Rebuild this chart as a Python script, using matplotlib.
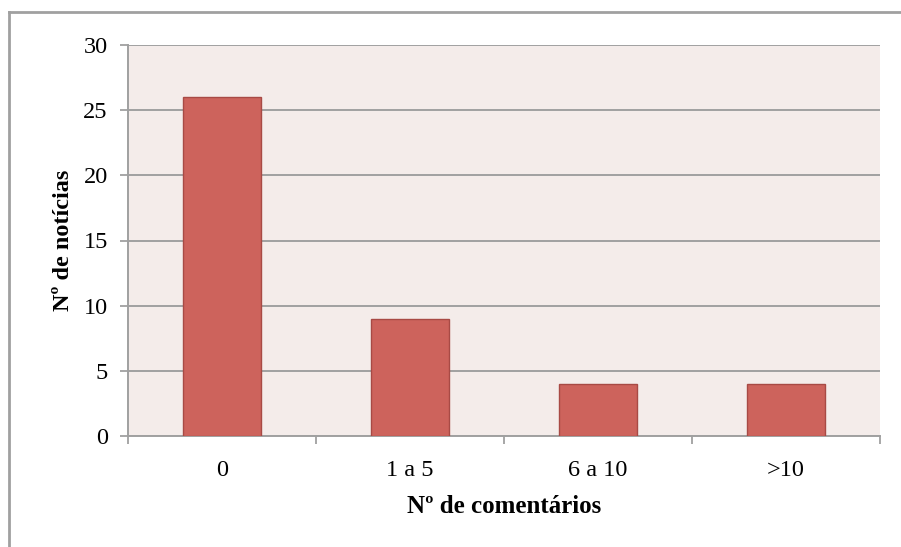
import matplotlib
matplotlib.use("Agg")
import matplotlib.pyplot as plt
from matplotlib.lines import Line2D

categories = ["0", "1 a 5", "6 a 10", ">10"]
values = [26, 9, 4, 4]
yticks = [0, 5, 10, 15, 20, 25, 30]

plt.rcParams['font.family'] = ['Liberation Serif', 'DejaVu Serif']

W, H = 901, 547
fig = plt.figure(figsize=(W / 100, H / 100), dpi=100)
fig.patch.set_facecolor("white")
ax = fig.add_axes([128 / W, 1 - 436 / H, (880 - 128) / W, (436 - 45) / H])
ax.set_facecolor("#F4ECEA")

x = list(range(len(categories)))
ax.bar(x, values, width=0.41, color="#CD635C", edgecolor="#A84A45", linewidth=1.0, zorder=3)

ax.set_xlim(-0.5, len(categories) - 0.5)
ax.set_ylim(0, 30)
ax.set_yticks(yticks)
ax.set_yticklabels([str(t) for t in yticks], fontsize=17.5)
ax.set_xticks(x)
ax.set_xticklabels(categories, fontsize=17.5)
ax.tick_params(axis="x", length=0, pad=17.5)
ax.tick_params(axis="y", length=6, width=1.3, color="#A0A0A0", pad=8.5)
# boundary ticks on x axis
ax.set_xticks([i - 0.5 for i in range(len(categories) + 1)], minor=True)
ax.tick_params(axis="x", which="minor", length=6, width=1.3, color="#A0A0A0")

ax.yaxis.grid(True, color="#A0A0A0", linewidth=1.4, zorder=1)
ax.set_axisbelow(True)
for s in ["top", "right"]:
    ax.spines[s].set_visible(False)
for s in ["left", "bottom"]:
    ax.spines[s].set_color("#A0A0A0")
    ax.spines[s].set_linewidth(1.4)

ax.set_xlabel("Nº de comentários", fontsize=18, fontweight="bold", labelpad=10)
ax.set_ylabel("Nº de notícias", fontsize=17.5, fontweight="bold", labelpad=7)

# outer chart border (left and top)
fig.add_artist(Line2D([9 / W, 9 / W], [0, 1 - 12 / H], transform=fig.transFigure, color="#A0A0A0", linewidth=2))
fig.add_artist(Line2D([9 / W, 1], [1 - 12 / H, 1 - 12 / H], transform=fig.transFigure, color="#A0A0A0", linewidth=2))

fig.savefig("out.png", dpi=100)
